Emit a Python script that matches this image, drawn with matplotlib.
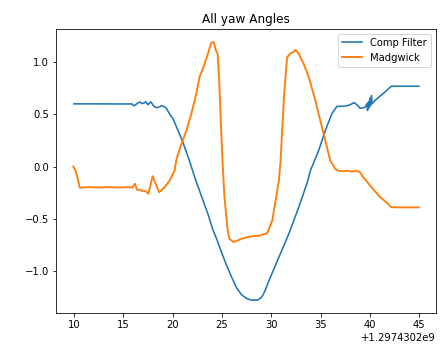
import matplotlib
matplotlib.use('Agg')
import matplotlib.pyplot as plt
import numpy as np

T0 = 1297430200  # timestamps in seconds, shown with offset

# ── Comp Filter (blue) ─────────────────────────────────────────
comp_t = [10.0, 12.0, 14.0, 15.9, 16.05, 16.2, 16.45, 16.7, 16.9, 17.1, 17.3, 17.5,
          17.8, 18.1, 18.4, 18.9, 19.2, 19.4, 19.7, 20.05, 20.55, 21.05, 21.7,
          22.3, 23.07, 23.6, 24.07, 24.5, 25.0, 25.5, 26.0, 26.5, 27.0,
          27.5, 28.0, 28.6, 29.0, 29.3, 29.77, 30.77, 31.78, 32.78,
          33.6, 33.96, 34.8, 35.47, 36.13, 36.64, 37.2, 37.64, 38.0, 38.4,
          38.8, 38.98, 39.3, 39.5, 39.7, 39.75, 39.85, 39.9, 40.0, 40.05, 40.15,
          40.2, 40.5, 41.0, 41.5, 42.16, 43.0, 44.0, 44.95]
comp_y = [0.598, 0.598, 0.597, 0.597, 0.58, 0.585, 0.605, 0.615, 0.60, 0.605, 0.617, 0.59,
          0.617, 0.575, 0.56, 0.58, 0.57, 0.55, 0.50, 0.455, 0.343, 0.23, 0.057,
          -0.12, -0.32, -0.46, -0.60, -0.70, -0.83, -0.95, -1.06, -1.16, -1.225,
          -1.26, -1.275, -1.275, -1.25, -1.20, -1.088, -0.865, -0.642, -0.388,
          -0.165, -0.04, 0.153, 0.343, 0.503, 0.573, 0.575, 0.579, 0.59, 0.61,
          0.58, 0.556, 0.56, 0.566, 0.60, 0.534, 0.62, 0.56, 0.65, 0.58, 0.677,
          0.60, 0.63, 0.67, 0.71, 0.766, 0.766, 0.766, 0.766]

# ── Madgwick (orange) ──────────────────────────────────────────
madg_t = [9.94, 10.17, 10.4, 10.6, 11.5, 12.5, 13.5, 14.5, 15.5, 15.9, 16.2, 16.4,
          16.7, 16.9, 17.1, 17.3, 17.54, 17.98, 18.3, 18.64, 19.2, 19.7, 20.2,
          20.4, 20.9, 21.4, 21.9, 22.4, 22.73, 23.24, 23.57, 23.9, 24.14, 24.4,
          24.57, 24.74, 24.9, 25.07, 25.25, 25.58, 25.75, 26.2, 26.58, 27.0,
          27.5, 28.1, 28.8, 29.6, 30.1, 30.44, 30.77, 30.94, 31.28, 31.6, 31.95,
          32.2, 32.45, 32.78, 33.28, 33.8, 34.46, 34.96, 35.47, 35.97, 36.47,
          36.8, 37.3, 37.8, 38.15, 38.5, 38.98, 39.3, 40.15, 41.0, 41.83, 42.16,
          43.0, 44.0, 44.95]
madg_y = [0.0, -0.04, -0.12, -0.203, -0.197, -0.20, -0.197, -0.20, -0.197, -0.20, -0.165, -0.223,
          -0.22, -0.235, -0.23, -0.24, -0.26, -0.092, -0.17, -0.245, -0.197, -0.134, -0.04,
          0.073, 0.216, 0.343, 0.503, 0.694, 0.852, 0.98, 1.075, 1.177, 1.19, 1.107,
          1.075, 0.77, 0.39, 0.03, -0.29, -0.61, -0.69, -0.72, -0.706, -0.69,
          -0.675, -0.665, -0.66, -0.635, -0.515, -0.324, -0.134, 0.057, 0.661, 1.043, 1.081,
          1.09, 1.113, 1.075, 0.98, 0.852, 0.63, 0.439, 0.248, 0.057, -0.022,
          -0.04, -0.045, -0.04, -0.05, -0.04, -0.054, -0.10, -0.197, -0.29, -0.356, -0.388,
          -0.39, -0.39, -0.39]

fig = plt.figure(figsize=(441/72, 344/72), dpi=72)
ax = fig.add_axes([0.127, 0.090, 0.862, 0.826])

ax.plot(T0 + np.array(comp_t), comp_y, label='Comp Filter', linewidth=1.6)
ax.plot(T0 + np.array(madg_t), madg_y, label='Madgwick', linewidth=1.9)

ax.set_title('All yaw Angles')
ax.legend(loc='upper right')

fig.savefig('out.png', dpi=72)
print("Saved -> out.png")
